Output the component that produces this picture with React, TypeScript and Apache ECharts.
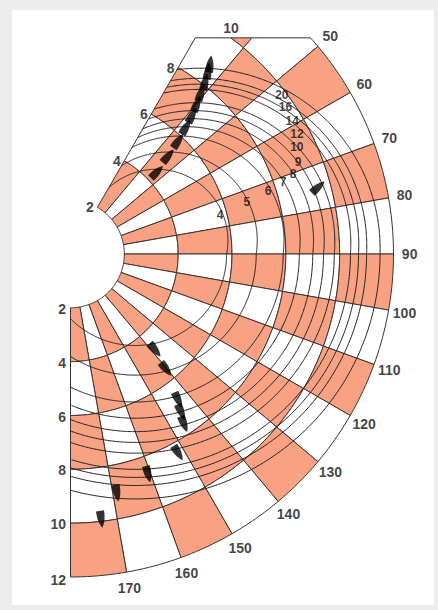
import React, { useEffect, useRef } from "react";
import * as echarts from "echarts";

// ---- grid (checkerboard) ----
const RING_EDGES = [2, 4, 6, 8, 10, 12];
const SECTOR_EDGES = [30, 40, 50, 60, 70, 80, 90, 100, 110, 120, 130, 140, 150, 160, 170, 180];
const ANGLE_LABELS = [50, 60, 70, 80, 90, 100, 110, 120, 130, 140, 150, 160, 170];
const ANGLE_LABEL_R = 12.6;
const RADIAL_TICKS_TOP = [2, 4, 6, 8, 10];
const RADIAL_TICKS_BOTTOM = [2, 4, 6, 8, 10, 12];

// ---- period isolines ----
const PERIODS = ["4", "5", "6", "7", "8", "9", "10", "12", "14", "16", "20"];
const CROSS_AT_90 = [5.8, 6.9, 7.9, 8.5, 9.0, 9.4, 9.8, 10.4, 10.7, 11.0, 11.5];
const UPPER_CENTER_X = [3.2, 3.65, 4.05, 4.3, 4.5, 4.6, 4.65, 4.7, 4.75, 4.78, 4.8];
const UPPER_CENTER_Y = [0.5, 0.5, 0.5, 0.5, 0.5, 0.5, 0.45, 0.4, 0.35, 0.3, 0.2];
const LOWER_CENTER_X = [2.4, 2.4, 2.4, 2.4, 2.4, 2.4, 2.4, 2.4, 2.4, 2.4, 2.4];
const PERIOD_LABEL_R = [5.74, 6.83, 7.71, 8.34, 8.79, 9.13, 9.3, 9.52, 9.6, 9.67, 9.83];
const PERIOD_LABEL_ANGLE = [75.4, 73.5, 72.2, 71.2, 70.2, 67.9, 64.7, 62.1, 59.1, 55.7, 53.0];

// ---- boats ----
const BOAT_R = [4.43, 5.14, 5.8, 6.38, 6.86, 7.29, 7.7, 8.12, 8.51, 8.76, 9.53, 4.75, 5.56, 6.74, 7.17, 7.6, 8.41, 8.67, 9.05, 9.92];
const BOAT_ANGLE = [46.5, 44.9, 43.6, 42.3, 41.2, 40.1, 39.0, 38.0, 36.9, 36.3, 74.9, 138.6, 140.3, 143.6, 145.0, 146.3, 151.6, 160.6, 169.0, 173.4];
const BOAT_HEADING = [-45, -40, -35, -30, -26, -22, -18, -14, -10, -8, -48, -140, -142, -155, -156, -158, -148, -165, -170, -172];

const TOP_CLIP_R = 8.03; // radius at angle 0 where the flat top edge lies
const SALMON = "#F8A283";
const GRID = "#3e322f";
const FONT = "Liberation Sans";

function clipTop(points: number[][], yTop: number) {
  const out: number[][] = [];
  for (let i = 0; i < points.length; i++) {
    const a = points[i];
    const b = points[(i + 1) % points.length];
    const ain = a[1] >= yTop;
    const bin = b[1] >= yTop;
    if (ain) out.push(a);
    if (ain !== bin) {
      const t = (yTop - a[1]) / (b[1] - a[1]);
      out.push([a[0] + t * (b[0] - a[0]), yTop]);
    }
  }
  return out;
}

export default function App() {
  const ref = useRef<HTMLDivElement>(null);
  useEffect(() => {
    if (!ref.current) return;
    const chart = echarts.init(ref.current, undefined, { renderer: "svg" });

    const cells: number[][] = [];
    for (let i = 0; i < RING_EDGES.length - 1; i++) {
      for (let s = 0; s < SECTOR_EDGES.length - 1; s++) {
        const k = Math.floor(SECTOR_EDGES[s] / 10);
        cells.push([RING_EDGES[i], RING_EDGES[i + 1], SECTOR_EDGES[s], SECTOR_EDGES[s + 1], (k + i) % 2]);
      }
    }
    const rMin = RING_EDGES[0];
    const rMax = RING_EDGES[RING_EDGES.length - 1];
    const aMin = SECTOR_EDGES[0];
    const aMax = SECTOR_EDGES[SECTOR_EDGES.length - 1];

    const isolines = PERIODS.map((p, i) => [i, CROSS_AT_90[i], UPPER_CENTER_X[i], UPPER_CENTER_Y[i], LOWER_CENTER_X[i]]);

    const boats = BOAT_R.map((r, i) => ({ value: [r, BOAT_ANGLE[i]], symbolRotate: BOAT_HEADING[i] }));

    const labelStyle = { fontFamily: FONT, fontWeight: "bold" as const, fontSize: 14, color: "#111" };

    const radialLabels = [
      ...RADIAL_TICKS_TOP.map((v) => ({
        name: String(v),
        value: [v, aMin],
        label: v === 10 ? { position: "inside", offset: [26, 7] } : { position: "left", distance: 3 },
      })),
      ...RADIAL_TICKS_BOTTOM.map((v) => ({
        name: String(v),
        value: [v, aMax],
        label: { position: "left", distance: 4, offset: [0, v === 12 ? 3 : 1] },
      })),
    ];

    const angleLabels = ANGLE_LABELS.map((a) => ({ name: String(a), value: [ANGLE_LABEL_R, a] }));

    const periodLabels = PERIODS.map((p, i) => ({ name: p, value: [PERIOD_LABEL_R[i], PERIOD_LABEL_ANGLE[i]] }));

    chart.setOption({
      animation: false,
      backgroundColor: "transparent",
      polar: { center: [70.5, 254], radius: [0, 323] },
      angleAxis: {
        type: "value",
        min: 0,
        max: 360,
        interval: 10,
        startAngle: 90,
        clockwise: true,
        axisLine: { show: false },
        axisTick: { show: false },
        splitLine: { show: false },
        axisLabel: { show: false },
      },
      radiusAxis: {
        type: "value",
        min: 0,
        max: 12,
        axisLine: { show: false },
        axisTick: { show: false },
        axisLabel: { show: false },
        splitLine: { show: false },
      },
      series: [
        {
          type: "custom",
          coordinateSystem: "polar",
          z: 1,
          silent: true,
          data: cells,
          renderItem: (params: any, api: any) => {
            const r0 = api.value(0), r1 = api.value(1), a0 = api.value(2), a1 = api.value(3);
            const odd = api.value(4);
            const pts: number[][] = [];
            for (let a = a0; a <= a1 + 1e-6; a += 1) pts.push(api.coord([r1, a]));
            for (let a = a1; a >= a0 - 1e-6; a -= 1) pts.push(api.coord([r0, a]));
            const yTop = api.coord([TOP_CLIP_R, 0])[1];
            const clipped = clipTop(pts, yTop);
            if (clipped.length < 3) return null;
            return {
              type: "polygon",
              shape: { points: clipped },
              style: { fill: odd ? SALMON : "#ffffff", stroke: GRID, lineWidth: 1 },
            };
          },
        },
        {
          type: "custom",
          coordinateSystem: "polar",
          z: 2,
          silent: true,
          data: isolines,
          renderItem: (params: any, api: any) => {
            const c = api.value(1), ux = api.value(2), uy = api.value(3), lx = api.value(4);
            const yTop = api.coord([TOP_CLIP_R, 0])[1];
            const segs: number[][][] = [];
            const addCircle = (cx: number, cy: number, R: number, angLo: number, angHi: number) => {
              let cur: number[][] = [];
              const N = 900;
              for (let i = 0; i <= N; i++) {
                const t = (i / N) * 2 * Math.PI;
                const x = cx + R * Math.cos(t);
                const y = cy + R * Math.sin(t);
                const r = Math.hypot(x, y);
                let ang = (Math.atan2(x, y) * 180) / Math.PI;
                if (ang < 0) ang += 360;
                if (r >= rMin && r <= rMax && ang >= angLo && ang <= angHi) {
                  const p = api.coord([r, ang]);
                  if (p[1] >= yTop) {
                    cur.push(p);
                    continue;
                  }
                }
                if (cur.length > 1) segs.push(cur);
                cur = [];
              }
              if (cur.length > 1) segs.push(cur);
            };
            addCircle(ux, uy, Math.hypot(c - ux, uy), aMin, 90);
            addCircle(lx, 0, c - lx, 90, aMax);
            return {
              type: "group",
              children: segs.map((s) => ({
                type: "polyline",
                shape: { points: s },
                style: { stroke: "#1e1e1e", lineWidth: 1, fill: null },
              })),
            };
          },
        },
        {
          type: "scatter",
          coordinateSystem: "polar",
          z: 4,
          silent: true,
          symbol: "path://M5 0 C8 5 10 12 9.6 22 L0.4 22 C0 12 2 5 5 0 Z",
          symbolSize: [8, 17],
          itemStyle: { color: "#000" },
          data: boats,
        },
        {
          type: "scatter",
          coordinateSystem: "polar",
          z: 5,
          silent: true,
          symbolSize: 1,
          itemStyle: { color: "rgba(0,0,0,0)" },
          label: { show: true, position: "inside", formatter: "{b}", ...labelStyle, fontSize: 12 },
          data: periodLabels,
        },
        {
          type: "scatter",
          coordinateSystem: "polar",
          z: 5,
          silent: true,
          clip: false,
          symbolSize: 1,
          itemStyle: { color: "rgba(0,0,0,0)" },
          label: { show: true, position: "inside", formatter: "{b}", ...labelStyle },
          data: angleLabels,
        },
        {
          type: "scatter",
          coordinateSystem: "polar",
          z: 5,
          silent: true,
          clip: false,
          symbolSize: 1,
          itemStyle: { color: "rgba(0,0,0,0)" },
          label: { show: true, formatter: "{b}", ...labelStyle },
          data: radialLabels,
        },
      ],
    });
    return () => chart.dispose();
  }, []);

  return (
    <div style={{ position: "absolute", left: 0, top: 0, width: 438, height: 610, background: "#ececec" }}>
      <div style={{ position: "absolute", left: 12, top: 10, width: 422, height: 595, background: "#ffffff" }} />
      <div ref={ref} style={{ position: "absolute", left: 0, top: 0, width: 438, height: 610 }} />
    </div>
  );
}
